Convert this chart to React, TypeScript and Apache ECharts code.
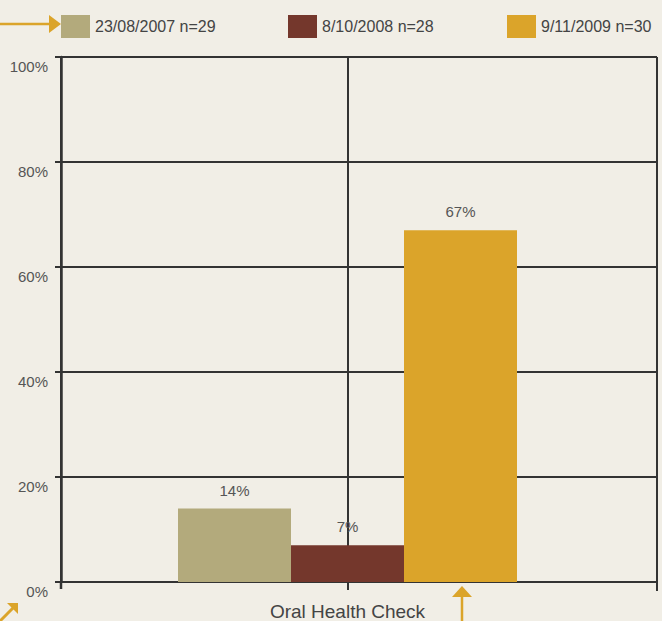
import React, { useEffect, useRef } from "react";
import * as echarts from "echarts";

const categories = ["Oral Health Check"];
const seriesNames = ["23/08/2007 n=29", "8/10/2008 n=28", "9/11/2009 n=30"];
const seriesValues = [[14], [7], [67]];
const seriesColors = ["#b3aa7c", "#74372c", "#dba42a"];
const yTicks = { min: 0, max: 100, interval: 20 };
const legendLefts = [61, 288, 507];

export default function App() {
  const ref = useRef<HTMLDivElement>(null);
  useEffect(() => {
    if (!ref.current) return;
    const chart = echarts.init(ref.current, undefined, { renderer: "svg" });
    const font = "'Liberation Sans', Arial, Helvetica, sans-serif";
    const arrowColor = "#dba42a";
    const dark = "#333";
    chart.setOption({
      animation: false,
      backgroundColor: "#f1eee6",
      textStyle: { fontFamily: font },
      legend: seriesNames.map((n, i) => ({
        data: [n],
        left: legendLefts[i],
        top: 15,
        padding: 0,
        icon: "rect",
        itemWidth: 29,
        itemHeight: 23,
        itemGap: 6,
        selectedMode: false,
        textStyle: { fontSize: 16, color: "#444", fontFamily: font },
      })),
      grid: [
        { left: 38, right: 5, top: 57, bottom: 39, containLabel: false },
        { left: 61, right: 5, top: 57, bottom: 39, containLabel: false },
      ],
      xAxis: [
        {
          type: "category",
          gridIndex: 0,
          data: categories,
          axisLine: { show: false },
          axisTick: { show: true, alignWithLabel: true, length: 8, lineStyle: { color: dark, width: 2 } },
          axisLabel: { fontSize: 19, color: "#444", margin: 20, fontFamily: font },
          splitLine: { show: false },
        },
        {
          type: "category",
          gridIndex: 1,
          data: categories,
          axisLine: { show: true, lineStyle: { color: dark, width: 2 } },
          axisTick: { show: false },
          axisLabel: { show: false },
          splitLine: { show: true, lineStyle: { color: dark, width: 2 } },
          z: 1,
        },
      ],
      yAxis: [
        {
          type: "value",
          gridIndex: 0,
          ...yTicks,
          show: false,
          splitLine: { show: false },
        },
        {
          type: "value",
          gridIndex: 1,
          ...yTicks,
          axisLine: { show: true, lineStyle: { color: dark, width: 2.5 } },
          axisTick: { show: true, length: 6, lineStyle: { color: dark, width: 2 } },
          axisLabel: {
            formatter: "{value}%",
            fontSize: 15,
            color: "#555",
            margin: 13,
            verticalAlign: "top",
            padding: [2, 0, 0, 0],
            fontFamily: font,
          },
          splitLine: { show: true, lineStyle: { color: dark, width: 2 } },
        },
      ],
      series: seriesNames.map((n, i) => ({
        name: n,
        type: "bar",
        xAxisIndex: 0,
        yAxisIndex: 0,
        data: seriesValues[i],
        barWidth: 113,
        barGap: "0%",
        itemStyle: { color: seriesColors[i] },
        label: {
          show: true,
          position: "top",
          distance: 11,
          formatter: "{c}%",
          fontSize: 15,
          color: "#555",
          fontFamily: font,
        },
        markLine:
          i === 1
            ? {
                silent: true,
                symbol: "none",
                label: { show: false },
                lineStyle: { color: dark, width: 2, type: "solid" },
                data: [{ xAxis: 0 }],
                z: 1,
              }
            : undefined,
        z: 3,
      })),
      graphic: [
        { type: "line", shape: { x1: 0, y1: 24, x2: 51, y2: 24 }, style: { stroke: arrowColor, lineWidth: 2.5 } },
        { type: "polygon", shape: { points: [[49, 15], [61, 24], [49, 33]] }, style: { fill: arrowColor } },
        { type: "line", shape: { x1: 0, y1: 621, x2: 13, y2: 608 }, style: { stroke: arrowColor, lineWidth: 3 } },
        { type: "polygon", shape: { points: [[7, 603], [18, 603], [18, 614]] }, style: { fill: arrowColor } },
        { type: "line", shape: { x1: 462, y1: 596, x2: 462, y2: 621 }, style: { stroke: arrowColor, lineWidth: 2.5 } },
        { type: "polygon", shape: { points: [[452, 597], [462, 586], [472, 597]] }, style: { fill: arrowColor } },
        { type: "line", shape: { x1: 657, y1: 582, x2: 657, y2: 591 }, style: { stroke: dark, lineWidth: 2 } },
        { type: "line", shape: { x1: 61, y1: 582, x2: 61, y2: 589 }, style: { stroke: dark, lineWidth: 2.5 } },
      ],
    });
    return () => chart.dispose();
  }, []);
  return (
    <div
      ref={ref}
      style={{ position: "fixed", left: 0, top: 0, width: 662, height: 621 }}
    />
  );
}
